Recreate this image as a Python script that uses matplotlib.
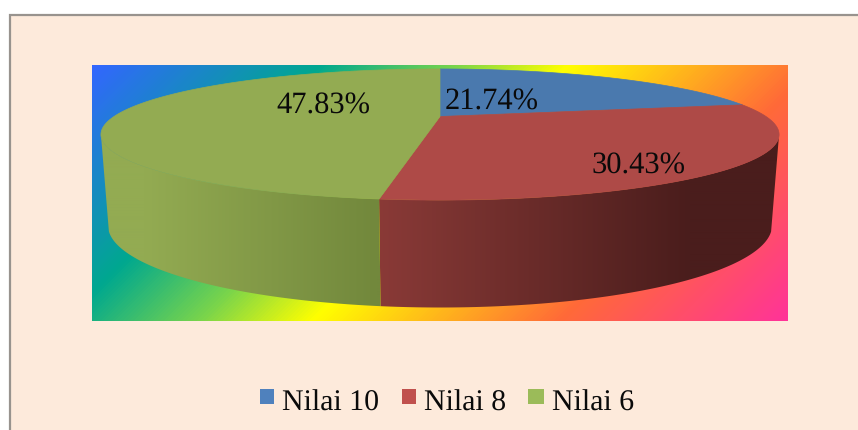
import numpy as np
import matplotlib
matplotlib.use('Agg')
import matplotlib.pyplot as plt
from matplotlib.colors import LinearSegmentedColormap, to_rgb
from matplotlib.patches import Rectangle, Polygon

categories = ['Nilai 10', 'Nilai 8', 'Nilai 6']
values = [21.74, 30.43, 47.83]
top_colors = ['#4a79ae', '#ae4a47', '#93ab52']
legend_colors = ['#4f81bd', '#c0504d', '#9bbb59']

plt.rcParams['font.family'] = ['Liberation Serif', 'DejaVu Serif']
plt.rcParams['text.kerning_factor'] = 6
plt.rcParams['text.hinting'] = 'no_hinting'

fig = plt.figure(figsize=(8.58, 4.31), dpi=100, facecolor='white')
ax = fig.add_axes([0, 0, 1, 1])
ax.axis('off')

# chart area, goes off the right and bottom of the picture
ax.add_patch(Rectangle((9, 15), 860, 430, facecolor='#fdeadb', edgecolor='none', zorder=0))
ax.plot([9.5, 9.5, 858], [431, 15.5, 15.5], color='#98938e', lw=1.6,
        solid_joinstyle='miter', zorder=1)

# rainbow plot area
px0, px1, py0, py1 = 92, 788, 65, 321
rainbow = LinearSegmentedColormap.from_list('rainbow_fill', [
    (0.0, '#3366ff'), (0.24, '#00a88f'), (0.38, '#78d44c'), (0.50, '#ffff00'),
    (0.76, '#ff6a38'), (1.0, '#ff3399')])
gx, gy = np.meshgrid(np.arange(px0, px1) + 0.5, np.arange(py0, py1) + 0.5)
grad = ((gx - px0) + (gy - py0)) / ((px1 - px0) + (py1 - py0))
ax.imshow(grad, cmap=rainbow, vmin=0, vmax=1, extent=(px0, px1, py1 + 0.6, py0 + 0.6),
          aspect='auto', interpolation='bilinear', zorder=2)

# projected circle for the top of the pie
cx, cy, ra, rb, k = 440, 117.5, 326, 60.6, 0.275


def top_rim(th):
    w = 1 + k * np.cos(th)
    return cx + ra * np.sin(th) / w, cy - rb * np.cos(th) / w


def bottom_rim(x):
    s = (x - cx) * 332 / 340
    return cx + s, 226.5 + 82 * np.sqrt(np.clip(1 - (s / 332) ** 2, 0, 1))


def wall_image(i, xs):
    # shading of the wall depends on the screen x only
    if i == 1:
        t = np.clip((xs - 378) / (690 - 378), 0, 1)
        c0, c1 = to_rgb('#8a3a37'), to_rgb('#4a1d1c')
    else:
        t = np.clip((xs - 145) / (377 - 145), 0, 1)
        c0, c1 = to_rgb('#93ab52'), to_rgb('#72883c')
    return np.stack([(1 - t) * a + t * b for a, b in zip(c0, c1)], axis=-1)[None, :, :]


edges = np.cumsum([0] + values) / sum(values) * 2 * np.pi
vis0, vis1 = np.arccos(-k), 2 * np.pi - np.arccos(-k)

for i, val in enumerate(values):
    th = np.linspace(edges[i], edges[i + 1], 200)
    x, y = top_rim(th)
    ax.fill(np.r_[cx, x], np.r_[cy, y], color=top_colors[i], lw=0.5, zorder=4)
    a0, a1 = max(edges[i], vis0), min(edges[i + 1], vis1)
    if a1 <= a0:
        continue
    ths = np.linspace(a0, a1, 120)
    x, y = top_rim(ths)
    bx, by = bottom_rim(x)
    wall = Polygon(np.c_[np.r_[x, bx[::-1]], np.r_[y, by[::-1]]], transform=ax.transData,
                   facecolor='none', edgecolor='none')
    ax.add_patch(wall)
    xs = np.arange(90, 790) + 0.5
    im = ax.imshow(wall_image(i, xs), extent=(90, 790, 320, 120), aspect='auto',
                   interpolation='bilinear', zorder=3)
    im.set_clip_path(wall)

label_pos = [(492, 110), (639, 174), (323, 114)]
for val, (lx, ly) in zip(values, label_pos):
    ax.text(lx, ly, f'{val:.2f}%', fontsize=22, ha='center', va='baseline',
            color='#0a0a0a', zorder=5)

# legend
box_x = [260, 402, 528]
box_w = [14, 14, 16]
text_x = [282, 424, 552]
for name, c, bx0, bw, tx in zip(categories, legend_colors, box_x, box_w, text_x):
    ax.add_patch(Rectangle((bx0, 390), bw, 15, facecolor=c, edgecolor='none', zorder=5))
    ax.text(tx, 411, name, fontsize=21.5, ha='left', va='baseline', color='#0a0a0a', zorder=5)

ax.set_xlim(0, 858)
ax.set_ylim(431, 0)
fig.savefig('out.png', dpi=100, facecolor='white')
